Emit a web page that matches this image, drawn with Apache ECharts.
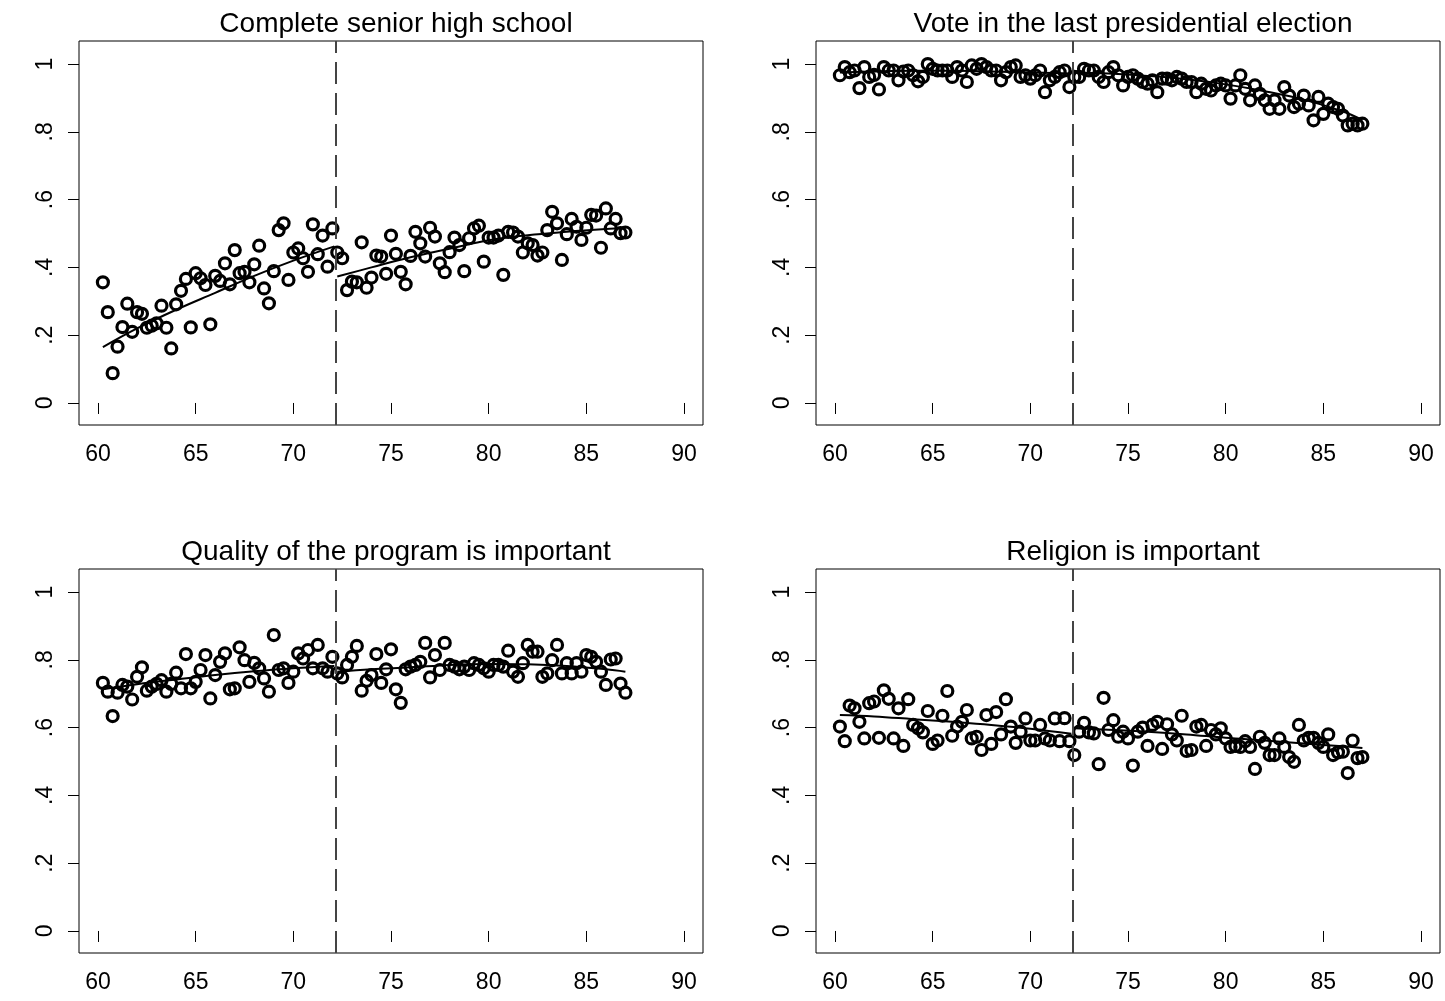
<!DOCTYPE html>
<html><head><meta charset="utf-8">
<script src="https://cdn.jsdelivr.net/npm/echarts@6/dist/echarts.min.js"></script>
<style>html,body{margin:0;padding:0;background:#fff}#chart{width:1445px;height:1001px}</style>
</head><body><div id="chart"></div>
<script>
// ---- data ----
const ages = [60.25,60.5,60.75,61,61.25,61.5,61.75,62,62.25,62.5,62.75,63,63.25,63.5,63.75,64,64.25,64.5,64.75,65,
65.25,65.5,65.75,66,66.25,66.5,66.75,67,67.25,67.5,67.75,68,68.25,68.5,68.75,69,69.25,69.5,69.75,70,
70.25,70.5,70.75,71,71.25,71.5,71.75,72,72.25,72.5,72.75,73,73.25,73.5,73.75,74,74.25,74.5,74.75,75,
75.25,75.5,75.75,76,76.25,76.5,76.75,77,77.25,77.5,77.75,78,78.25,78.5,78.75,79,79.25,79.5,79.75,80,
80.25,80.5,80.75,81,81.25,81.5,81.75,82,82.25,82.5,82.75,83,83.25,83.5,83.75,84,84.25,84.5,84.75,85,
85.25,85.5,85.75,86,86.25,86.5,86.75,87];

const panelTitles = ["Complete senior high school","Vote in the last presidential election",
  "Quality of the program is important","Religion is important"];

const highSchool = [.356,.268,.088,.166,.224,.293,.210,.268,.263,.222,
.228,.235,.287,.222,.161,.291,.331,.366,.223,.383,
.368,.348,.232,.375,.360,.412,.350,.451,.383,.387,
.356,.409,.464,.338,.294,.389,.510,.530,.363,.444,
.456,.427,.387,.527,.439,.494,.402,.515,.444,.427,
.333,.358,.356,.474,.340,.370,.435,.432,.381,.494,
.440,.387,.350,.434,.505,.471,.432,.517,.491,.412,
.386,.445,.488,.466,.389,.486,.515,.523,.417,.488,
.488,.494,.378,.505,.503,.491,.444,.471,.466,.435,
.444,.510,.564,.530,.422,.498,.543,.520,.481,.517,
.555,.553,.458,.574,.515,.543,.501,.503];

const voted = [.967,.991,.976,.981,.929,.991,.962,.968,.925,.991,
.981,.981,.952,.978,.981,.967,.949,.962,1.0,.986,
.981,.981,.981,.962,.991,.981,.947,.996,.986,1.0,
.991,.981,.981,.952,.976,.991,
.996,.962,.967,.957,.967,.981,.917,.952,.962,.976,
.981,.932,.962,.962,.986,.981,.981,.962,.947,.976,
.991,.967,.937,.962,.967,.957,.947,.942,.952,.917,
.957,.957,.952,.962,.957,.947,.947,.917,
.942,.927,.922,.937,.942,.937,.898,.937,.967,.927,
.893,.937,.912,.893,.868,.893,.868,.932,.907,.873,
.883,.907,.878,.834,.903,.853,.883,.873,.868,.848,
.819,.824,.819,.824];

const quality = [.732,.706,.634,.703,.726,.721,.683,.750,.778,.709,
.721,.729,.740,.706,.729,.762,.716,.817,.716,.735,
.770,.814,.686,.755,.794,.819,.713,.716,.837,.799,
.735,.791,.775,.745,.706,.873,
.770,.775,.732,.765,.819,.804,.829,.775,.844,.775,
.765,.809,.760,.748,.785,.809,.841,.709,.738,.755,
.817,.732,.772,.831,.713,.673,.772,.780,.785,.794,
.850,.748,.814,.770,.850,.785,
.780,.772,.780,.770,.790,.785,.775,.765,.785,.785,.780,
.827,.765,.750,.790,.844,.824,.824,.750,.760,.799,
.844,.760,.790,.760,.790,.765,.814,.809,.794,.765,
.726,.801,.804,.730,.703];

const religion = [.603,.560,.665,.657,.617,.568,.672,.677,.570,.710,
.685,.568,.657,.546,.684,.608,.598,.586,.649,.552,
.562,.635,.708,.576,.603,.617,.652,.568,.573,.534,
.637,.552,.646,.580,.684,.603,
.555,.588,.627,.562,.562,.608,.568,.562,.627,.560,
.628,.560,.519,.588,.614,.586,.583,.492,.688,.593,
.622,.573,.588,.568,.488,.588,.600,.546,.608,.617,
.537,.610,.580,.562,.635,.531,.534,.603,
.608,.546,.593,.580,.598,.568,.543,.546,.543,.560,
.543,.478,.573,.555,.519,.519,.568,.543,.513,.499,
.608,.562,.570,.570,.555,.543,.580,.519,.527,.529,
.466,.562,.510,.513];

// fitted curves (read at a few ages on each side of the cutoff)
const fitLeftX  = [60.25, 62, 64, 66, 68, 70, 72.1];
const fitRightX = [72.25, 74, 76, 78, 80, 82, 84, 86, 87];
const highSchoolFitLeft  = [.165, .220, .275, .325, .375, .420, .462];
const highSchoolFitRight = [.373, .400, .430, .455, .480, .495, .505, .513, .516];
const votedFitLeft  = [.975, .978, .980, .980, .978, .975, .972];
const votedFitRight = [.975, .972, .965, .955, .940, .920, .895, .860, .835];
const qualityFitLeft  = [.713, .728, .742, .755, .766, .775, .782];
const qualityFitRight = [.765, .772, .778, .785, .788, .787, .782, .772, .765];
const religionFitLeft  = [.637, .633, .625, .617, .608, .597, .582];
const religionFitRight = [.598, .594, .588, .580, .570, .562, .553, .545, .540];

const cutoff = 72.17;
const xTicks = [60, 65, 70, 75, 80, 85, 90];
const yTicks = [0, 0.2, 0.4, 0.6, 0.8, 1];
const yTickLabels = ["0", ".2", ".4", ".6", ".8", "1"];

// ---- chart ----
const panels = [
  {title: panelTitles[0], y: highSchool, fl: highSchoolFitLeft, fr: highSchoolFitRight},
  {title: panelTitles[1], y: voted, fl: votedFitLeft, fr: votedFitRight},
  {title: panelTitles[2], y: quality, fl: qualityFitLeft, fr: qualityFitRight},
  {title: panelTitles[3], y: religion, fl: religionFitLeft, fr: religionFitRight}
];
const frames = [
  {left: 79, top: 41}, {left: 816, top: 41},
  {left: 79, top: 569}, {left: 816, top: 569}
];
const FW = 624, FH = 384;
const FONT = '"Liberation Sans", Arial, Helvetica, sans-serif';

const option = {
  animation: false,
  backgroundColor: '#fff',
  title: [], grid: [], xAxis: [], yAxis: [], series: []
};

panels.forEach((p, k) => {
  const f = frames[k];
  option.title.push({
    text: p.title, left: f.left + FW / 2, top: f.top - 36, textAlign: 'center',
    textStyle: {fontFamily: FONT, fontSize: 28, fontWeight: 'normal', color: '#000'}
  });
  option.grid.push({
    left: f.left, top: f.top, width: FW, height: FH,
    show: true, borderColor: '#000', borderWidth: 1, backgroundColor: '#fff'
  });
  option.xAxis.push({
    type: 'value', gridIndex: k, min: 59.027, max: 90.973,
    axisLine: {show: false},
    splitLine: {show: false},
    axisTick: {show: true, customValues: xTicks, length: 11, lineStyle: {color: '#000', width: 1}},
    axisLabel: {customValues: xTicks, margin: 18, fontFamily: FONT, fontSize: 23, color: '#000'}
  });
  option.yAxis.push({
    type: 'value', gridIndex: k, min: -0.065, max: 1.068,
    axisLine: {show: false},
    splitLine: {show: false},
    axisTick: {show: true, customValues: yTicks, length: 11, lineStyle: {color: '#000', width: 1}},
    axisLabel: {customValues: yTicks, rotate: 90, margin: 22, fontFamily: FONT, fontSize: 23, color: '#000',
      formatter: v => yTickLabels[yTicks.findIndex(t => Math.abs(t - v) < 1e-6)] ?? ''}
  });
  option.series.push({
    type: 'scatter', xAxisIndex: k, yAxisIndex: k,
    data: ages.map((a, i) => [a, p.y[i]]),
    symbol: 'circle', symbolSize: 11,
    itemStyle: {color: 'rgba(0,0,0,0)', borderColor: '#000', borderWidth: 3.2, opacity: 1},
    markLine: {
      silent: true, symbol: 'none', label: {show: false},
      lineStyle: {color: '#444', width: 2, type: [22, 9]},
      data: [{xAxis: cutoff}]
    },
    z: 2
  });
  option.series.push({
    type: 'line', xAxisIndex: k, yAxisIndex: k, smooth: 0.4, showSymbol: false,
    data: fitLeftX.map((a, i) => [a, p.fl[i]]),
    lineStyle: {color: '#000', width: 2}, z: 3
  });
  option.series.push({
    type: 'line', xAxisIndex: k, yAxisIndex: k, smooth: 0.4, showSymbol: false,
    data: fitRightX.map((a, i) => [a, p.fr[i]]),
    lineStyle: {color: '#000', width: 2}, z: 3
  });
});

const chart = echarts.init(document.getElementById('chart'), null, {renderer: 'canvas'});
chart.setOption(option);
</script>
</body></html>
